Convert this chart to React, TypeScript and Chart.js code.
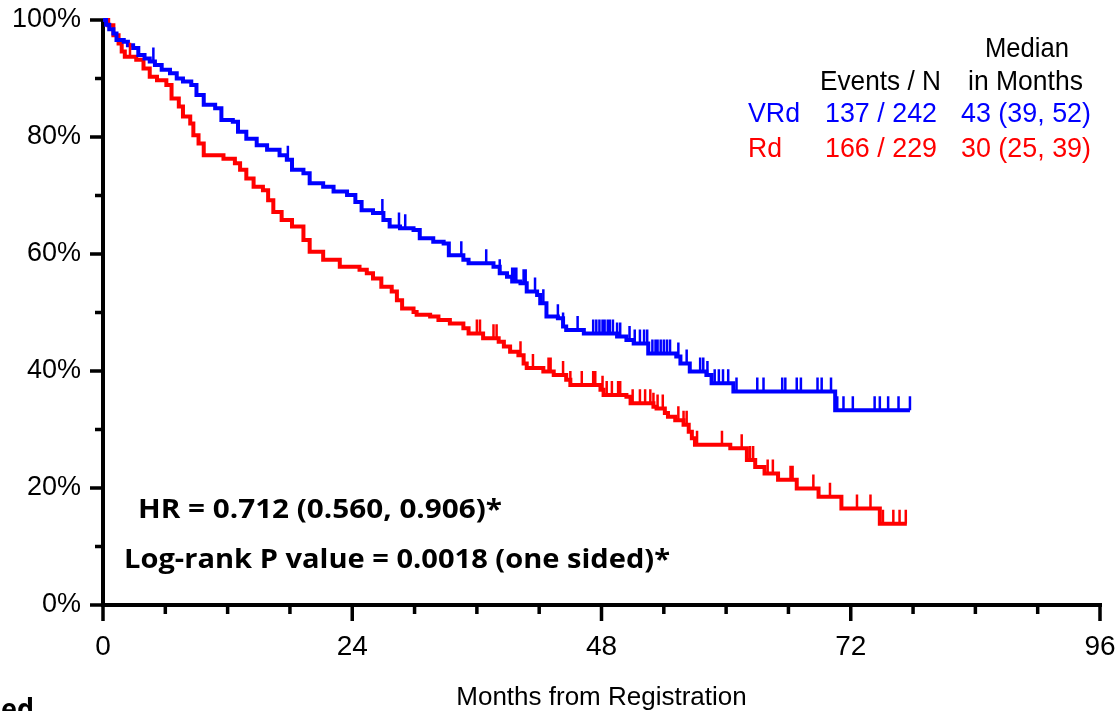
import React, { useEffect, useRef } from "react";
import { Chart, registerables } from "chart.js";

Chart.register(...registerables);

// ---------- data ----------
const xTickValues = [0, 24, 48, 72, 96];
const xMinorStep = 6;
const yTickValues = [0, 20, 40, 60, 80, 100];
const yMinorStep = 10;

const vrdMonths = [
  0, 0.3, 0.6, 1.0, 1.3, 2.0, 2.4, 2.9, 3.4, 4.0, 4.5, 5.0, 5.65, 6.45, 7.1, 7.7, 8.5, 9.0, 9.7, 10.8, 11.4, 12.5,
  13.0, 13.8, 14.8, 15.8, 17.0, 17.7, 18.2, 19.3, 19.9, 21.2, 22.2, 23.5, 24.3, 24.9, 26.0, 27.0, 27.6,
  28.6, 29.9, 30.5, 31.8, 32.8, 33.3, 34.7, 35.2, 37.6, 38.2, 38.9, 39.4, 40.2, 40.8, 41.8, 42.1, 42.7,
  43.8, 44.3, 44.6, 46.3, 49.5, 50.4, 51.1, 52.5, 55.2, 55.6, 56.5, 58.1, 58.6, 60.7, 70.5, 77.7,
];
const vrdSurvival = [
  100, 99.2, 98.4, 97.7, 96.6, 96.3, 95.7, 95.2, 94.0, 93.4, 92.9, 92.3, 91.5, 90.9, 90.0, 89.5, 88.9, 87.2, 85.5, 84.9,
  82.9, 82.6, 80.9, 79.7, 78.6, 77.8, 76.9, 76.1, 74.4, 73.8, 72.1, 71.5, 70.7, 70.1, 68.9, 67.5, 67.0, 65.8,
  64.7, 64.4, 64.1, 62.7, 62.1, 61.8, 59.8, 59.0, 58.4, 57.8, 56.7, 56.1, 55.3, 55.0, 53.6, 53.0, 51.6, 49.3,
  49.0, 47.6, 47.0, 46.4, 45.9, 45.3, 44.7, 43.0, 42.5, 41.3, 39.9, 39.3, 37.9, 36.5, 33.3, 33.3,
];
const vrdCensorMonths = [
  4.85, 17.8, 26.9, 28.5, 29.1, 34.5, 36.9, 38.2, 39.4, 39.6, 39.8, 40.5, 40.7, 41.6, 42.4, 43.8, 44.3,
  45.7, 47.2, 47.5, 47.8, 48.1, 48.3, 48.6, 48.8, 49.1, 49.5, 49.8, 50.7, 51.2, 51.7, 52.1, 52.4, 52.9,
  53.2, 53.4, 53.7, 54.0, 54.3, 54.6, 55.4, 56.2, 57.5, 57.8, 58.2, 58.9, 59.3, 59.7, 60.2, 61.0, 63.0,
  63.6, 65.4, 65.7, 66.8, 67.2, 68.8, 69.2, 70.1, 70.7, 71.3, 72.2, 74.3, 74.8, 75.6, 76.6, 77.7,
];

const rdMonths = [
  0, 0.5, 1.0, 1.5, 1.8, 2.1, 3.2, 3.9, 4.5, 5.2, 6.1, 6.6, 7.3, 7.7, 8.4, 8.7, 9.2, 9.7, 11.6, 12.7, 13.2,
  13.8, 14.5, 15.4, 15.9, 16.4, 17.2, 18.2, 19.3, 19.9, 21.2, 22.8, 24.7, 25.4, 26.0, 26.8, 27.8, 28.3,
  28.8, 29.9, 30.2, 31.5, 32.3, 33.4, 34.7, 35.2, 36.6, 38.1, 38.6, 39.2, 40.0, 40.5, 40.8, 42.4, 43.4,
  44.6, 45.0, 47.9, 48.2, 50.4, 50.8, 53.0, 53.3, 54.1, 54.4, 55.1, 55.9, 56.4, 56.7, 57.0, 60.4, 62.0,
  62.8, 63.7, 65.0, 66.8, 68.9, 71.1, 74.8, 77.4,
];
const rdSurvival = [
  100, 99.1, 97.4, 96.0, 94.6, 93.7, 93.2, 91.7, 90.3, 89.7, 88.9, 86.6, 85.2, 83.5, 82.3, 80.3, 78.9, 76.9,
  76.3, 75.5, 74.4, 72.9, 71.5, 70.9, 69.2, 67.2, 65.8, 64.7, 62.4, 60.4, 59.0, 57.8, 57.3, 56.7, 55.8, 54.4,
  53.6, 52.1, 50.7, 50.1, 49.6, 49.3, 48.7, 48.1, 47.3, 46.4, 45.6, 45.0, 44.2, 43.3, 42.7, 41.3, 40.5, 39.9,
  39.3, 38.5, 37.6, 36.8, 35.9, 35.6, 34.5, 33.9, 33.6, 32.8, 32.2, 31.6, 30.8, 29.6, 28.5, 27.4, 26.8, 24.8,
  23.6, 22.5, 21.4, 19.9, 18.5, 16.5, 13.9, 13.9,
];
const rdCensorMonths = [
  2.6, 36.0, 36.3, 37.6, 37.9, 40.2, 41.4, 42.9, 43.1, 44.3, 45.0, 46.1, 47.2, 47.4, 48.1, 48.5, 49.0,
  49.6, 49.8, 51.0, 51.7, 52.2, 52.7, 53.0, 53.4, 53.9, 55.4, 55.9, 56.2, 57.2, 59.6, 61.5, 62.3, 62.6,
  64.0, 64.5, 66.2, 66.4, 68.4, 70.0, 72.6, 73.9, 75.1, 76.1, 76.7, 77.3,
];

const armNames = ["VRd", "Rd"];
const armEvents = ["137 / 242", "166 / 229"];
const armMedians = ["43 (39, 52)", "30 (25, 39)"];
const armColors = ["#0000FF", "#FF0000"];
const legendHeaderEvents = "Events / N";
const legendHeaderMedian1 = "Median";
const legendHeaderMedian2 = "in Months";
const hrText = "HR = 0.712 (0.560, 0.906)*";
const pText = "Log-rank P value = 0.0018 (one sided)*";
const xTitle = "Months from Registration";
const cornerText = "ed";

// ---------- styling helpers ----------
const SANS = "'Liberation Sans', Arial, Helvetica, sans-serif";
const BOLD = "'Open Sans', 'Noto Sans', sans-serif";

function fitText(
  ctx: CanvasRenderingContext2D,
  text: string,
  left: number,
  baseline: number,
  font: string,
  color: string,
  width: number
) {
  ctx.save();
  ctx.font = font;
  ctx.fillStyle = color;
  ctx.textAlign = "left";
  ctx.textBaseline = "alphabetic";
  const w = ctx.measureText(text).width;
  const sx = width > 0 ? width / w : 1;
  ctx.translate(left, baseline);
  ctx.scale(sx, 1);
  ctx.fillText(text, 0, 0);
  ctx.restore();
}

function survivalAt(months: number[], surv: number[], t: number) {
  let s = surv[0];
  for (let i = 0; i < months.length; i++) {
    if (months[i] <= t) s = surv[i];
    else break;
  }
  return s;
}

const kmPlugin = {
  id: "kmDecor",
  beforeDatasetsDraw(chart: any) {
    const ctx: CanvasRenderingContext2D = chart.ctx;
    const xs = chart.scales.x;
    const ys = chart.scales.y;
    const x0 = xs.getPixelForValue(0);
    const x1 = xs.getPixelForValue(96);
    const y0 = ys.getPixelForValue(0);
    const y1 = ys.getPixelForValue(100);
    ctx.save();
    ctx.strokeStyle = "#000";
    ctx.lineCap = "butt";
    ctx.lineWidth = 4;
    ctx.beginPath();
    ctx.moveTo(x0, y1 - 1);
    ctx.lineTo(x0, y0 + 2);
    ctx.moveTo(x0 - 2, y0);
    ctx.lineTo(x1 + 2, y0);
    ctx.stroke();
    ctx.lineWidth = 3.5;
    ctx.beginPath();
    for (let v = 0; v <= 100; v += yMinorStep) {
      const major = yTickValues.includes(v);
      const y = ys.getPixelForValue(v);
      ctx.moveTo(x0 - (major ? 13 : 8), y);
      ctx.lineTo(x0, y);
    }
    for (let m = 0; m <= 96; m += xMinorStep) {
      const major = xTickValues.includes(m);
      const x = xs.getPixelForValue(m);
      ctx.moveTo(x, y0);
      ctx.lineTo(x, y0 + (major ? 16 : 9));
    }
    ctx.stroke();
    ctx.restore();
  },
  afterDatasetsDraw(chart: any) {
    const ctx: CanvasRenderingContext2D = chart.ctx;
    const xs = chart.scales.x;
    const ys = chart.scales.y;
    const draw = (months: number[], surv: number[], cens: number[], color: string) => {
      ctx.save();
      ctx.strokeStyle = color;
      ctx.lineWidth = 2.5;
      ctx.beginPath();
      for (const t of cens) {
        const x = xs.getPixelForValue(t);
        const y = ys.getPixelForValue(survivalAt(months, surv, t));
        ctx.moveTo(x, y);
        ctx.lineTo(x, y - 14);
      }
      ctx.stroke();
      ctx.restore();
    };
    draw(rdMonths, rdSurvival, rdCensorMonths, armColors[1]);
    draw(vrdMonths, vrdSurvival, vrdCensorMonths, armColors[0]);
  },
  afterDraw(chart: any) {
    const ctx: CanvasRenderingContext2D = chart.ctx;
    const lf = `28px ${SANS}`;
    fitText(ctx, legendHeaderMedian1, 985, 57, lf, "#000", 84);
    fitText(ctx, legendHeaderEvents, 820, 90, lf, "#000", 121);
    fitText(ctx, legendHeaderMedian2, 968, 90, lf, "#000", 115);
    const rowBase = [122, 157];
    const nameW = [52, 34];
    for (let i = 0; i < 2; i++) {
      fitText(ctx, armNames[i], 748, rowBase[i], lf, armColors[i], nameW[i]);
      fitText(ctx, armEvents[i], 825, rowBase[i], lf, armColors[i], 112);
      fitText(ctx, armMedians[i], 961, rowBase[i], lf, armColors[i], 130);
    }
    const bf = `bold 27px ${BOLD}`;
    fitText(ctx, hrText, 138, 518, bf, "#000", 364);
    fitText(ctx, pText, 124, 568, bf, "#000", 546);
    fitText(ctx, cornerText, 1, 719, `bold 28px ${BOLD}`, "#000", 33);
  },
};

const zeroPadding = (s: any) => {
  s.paddingTop = 0;
  s.paddingBottom = 0;
  s.paddingLeft = 0;
  s.paddingRight = 0;
};

export default function App() {
  const canvasRef = useRef<HTMLCanvasElement | null>(null);

  useEffect(() => {
    document.body.style.margin = "0";
    const canvas = canvasRef.current;
    if (!canvas) return;
    const chart = new Chart(canvas, {
      type: "line",
      data: {
        datasets: [
          {
            label: armNames[0],
            data: vrdMonths.map((m, i) => ({ x: m, y: vrdSurvival[i] })),
            borderColor: armColors[0],
            backgroundColor: armColors[0],
            borderWidth: 4,
            stepped: "before",
            pointRadius: 0,
            fill: false,
            clip: false,
          } as any,
          {
            label: armNames[1],
            data: rdMonths.map((m, i) => ({ x: m, y: rdSurvival[i] })),
            borderColor: armColors[1],
            backgroundColor: armColors[1],
            borderWidth: 4,
            stepped: "before",
            pointRadius: 0,
            fill: false,
            clip: false,
          } as any,
        ],
      },
      options: {
        animation: false,
        responsive: false,
        maintainAspectRatio: false,
        layout: { padding: { top: 20, right: 19, left: 0, bottom: 0 } },
        plugins: { legend: { display: false }, tooltip: { enabled: false } },
        scales: {
          x: {
            type: "linear",
            min: 0,
            max: 96,
            grid: { display: false, drawTicks: false },
            border: { display: false },
            afterBuildTicks: (s: any) => {
              s.ticks = xTickValues.map((v) => ({ value: v }));
            },
            ticks: {
              font: { family: SANS, size: 28 },
              color: "#000",
              padding: 25,
              maxRotation: 0,
              autoSkip: false,
            },
            title: {
              display: true,
              text: xTitle,
              font: { family: SANS, size: 26 },
              color: "#000",
              padding: { top: 0, bottom: -2 },
            },
            afterFit: (s: any) => {
              s.height = 106;
              zeroPadding(s);
            },
          },
          y: {
            type: "linear",
            min: 0,
            max: 100,
            grid: { display: false, drawTicks: false },
            border: { display: false },
            afterBuildTicks: (s: any) => {
              s.ticks = yTickValues.map((v) => ({ value: v }));
            },
            ticks: {
              font: { family: SANS, size: 27 },
              color: "#000",
              padding: 22,
              callback: (v: any) => `${v}%`,
            },
            afterFit: (s: any) => {
              s.width = 103;
              zeroPadding(s);
            },
          },
        },
      },
      plugins: [kmPlugin as any],
    });
    return () => chart.destroy();
  }, []);

  return (
    <div style={{ width: 1119, height: 711, background: "#fff" }}>
      <canvas ref={canvasRef} width={1119} height={711} style={{ display: "block" }} />
    </div>
  );
}
